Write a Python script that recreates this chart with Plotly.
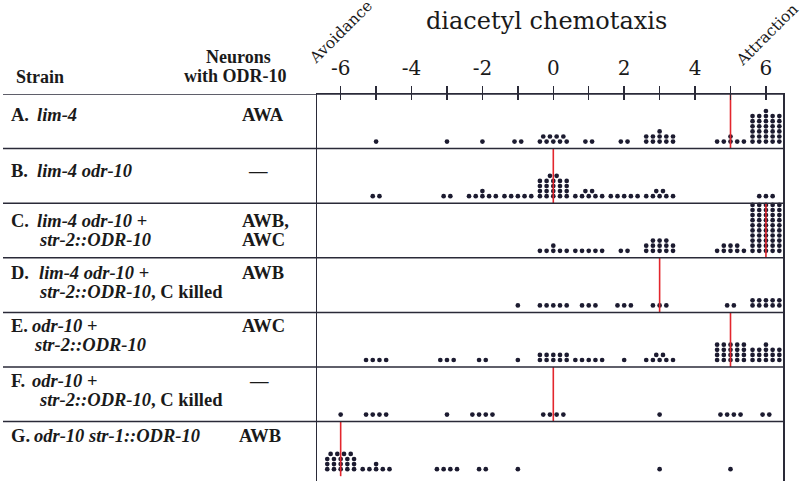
import numpy as np
import plotly.graph_objects as go

W, H = 800, 481

# ---------------- data ----------------
bins = [-6, -5, -4, -3, -2, -1, 0, 1, 2, 3, 4, 5, 6]
counts_A = [0, 1, 0, 1, 1, 2, 9, 2, 2, 11, 0, 6, 31]
counts_B = [0, 2, 0, 2, 6, 5, 22, 7, 5, 7, 0, 0, 3]
counts_C = [0, 0, 0, 0, 0, 0, 6, 5, 2, 13, 0, 8, 50]
counts_D = [0, 0, 0, 0, 0, 1, 5, 3, 3, 3, 0, 2, 10]
counts_E = [0, 4, 0, 3, 2, 1, 10, 5, 1, 7, 0, 20, 16]
counts_F = [1, 4, 0, 1, 4, 0, 4, 0, 0, 1, 0, 4, 2]
counts_G = [19, 6, 0, 4, 2, 1, 0, 0, 0, 1, 0, 1, 0]
all_counts = [counts_A, counts_B, counts_C, counts_D, counts_E, counts_F, counts_G]

strain_prefix = ["A.", "B.", "C.", "D.", "E.", "F.", "G."]
strain_line1 = ["<i>lim-4</i>", "<i>lim-4 odr-10</i>", "<i>lim-4 odr-10</i> +",
                "<i>lim-4 odr-10</i> +", "<i>odr-10</i> +", "<i>odr-10</i> +",
                "<i>odr-10 str-1::ODR-10</i>"]
strain_line2 = ["", "", "<i>str-2::ODR-10</i>", "<i>str-2::ODR-10</i>, C killed",
                "<i>str-2::ODR-10</i>", "<i>str-2::ODR-10</i>, C killed", ""]
neurons = [["AWA"], ["\u2014"], ["AWB,", "AWC"], ["AWB"], ["AWC"], ["\u2014"], ["AWB"]]

tick_vals = [-6, -5, -4, -3, -2, -1, 0, 1, 2, 3, 4, 5, 6]
tick_text = ["-6", "", "-4", "", "-2", "", "0", "", "2", "", "4", "", "6"]

title_text = "diacetyl chemotaxis"
left_label = "Avoidance"
right_label = "Attraction"

# ---------------- layout geometry (pixels) ----------------
PLOT_L, PLOT_R, PLOT_T, PLOT_B = 317, 783, 94, 481
ROW_H = 54.6
PX_PER_UNIT = 35.44
ZERO_PX = 553.3
x_lo = (PLOT_L - ZERO_PX) / PX_PER_UNIT
x_hi = (PLOT_R - ZERO_PX) / PX_PER_UNIT
n_rows = len(all_counts)
y_hi = n_rows
y_lo = n_rows - (PLOT_B - PLOT_T) / ROW_H

DX = 6.7 / PX_PER_UNIT
DY = 5.1 / ROW_H
BASE = 7.0 / ROW_H
PER_ROW = 5

INK = "#1c1b30"
LINE = "#2a2a38"
RED = "#e3262d"
SERIF = "DejaVu Serif"
TSERIF = "Liberation Serif"


def px(x, y):
    return x / W, 1 - y / H


# ---------------- dots ----------------
dot_x, dot_y = [], []
med_x, med_y = [], []
for r, counts in enumerate(all_counts):
    y0 = (n_rows - 1 - r)
    for b, n in zip(bins, counts):
        full, rem = divmod(n, PER_ROW)
        level = 0
        for _ in range(full):
            for k in range(PER_ROW):
                dot_x.append(b + (k - (PER_ROW - 1) / 2) * DX)
                dot_y.append(y0 + BASE + level * DY)
            level += 1
        for k in range(rem):
            dot_x.append(b + (k - (rem - 1) / 2) * DX)
            dot_y.append(y0 + BASE + level * DY)
    values = np.repeat(bins, counts)
    med = float(np.median(values))
    med_x += [med, med, None]
    med_y += [y0, y0 + 1, None]

fig = go.Figure()
fig.add_trace(go.Scatter(x=dot_x, y=dot_y, mode="markers",
                         marker=dict(size=4.7, color=INK, line=dict(width=0)),
                         hoverinfo="skip", showlegend=False))
fig.add_trace(go.Scatter(x=med_x, y=med_y, mode="lines",
                         line=dict(color=RED, width=1.6),
                         hoverinfo="skip", showlegend=False))
fig.add_trace(go.Scatter(x=[0], y=[0], xaxis="x2", mode="markers",
                         marker=dict(opacity=0), hoverinfo="skip", showlegend=False))

# ---------------- row separators ----------------
shapes = []
for k in range(1, n_rows + 1):
    shapes.append(dict(type="line", xref="paper", yref="y",
                       x0=3 / W, x1=PLOT_R / W, y0=k, y1=k,
                       line=dict(color=LINE, width=1.5)))

# ---------------- annotations ----------------
ann = []


def text(x, y, s, size, font=TSERIF, xanchor="left", angle=0, bold=True):
    xx, yy = px(x, y)
    ann.append(dict(x=xx, y=yy, xref="paper", yref="paper", showarrow=False,
                    text=("<b>%s</b>" % s) if bold else s, xanchor=xanchor,
                    yanchor="middle", textangle=angle,
                    font=dict(family=font, size=size, color="#1a1a1a")))


text(546, 21, title_text, 24, font=SERIF, xanchor="center", bold=False)
text(341, 32, left_label, 15.5, font=SERIF, xanchor="center", angle=-45, bold=False)
text(767, 35, right_label, 15.5, font=SERIF, xanchor="center", angle=-45, bold=False)

text(14, 77, "Strain", 18)
text(238, 57, "Neurons", 18, xanchor="center")
text(235, 76, "with ODR-10", 18, xanchor="center")

line1_y = [115, 171, 221, 273, 326, 381, 436]
line2_dy = 18.5
name_x1 = [35, 35, 35, 37, 30, 30, 32]
name_x2 = [0, 0, 37, 37, 32, 37, 0]
neur_x = [240, 258, 240, 240, 240, 259, 237]
for r in range(n_rows):
    y1 = line1_y[r]
    text(9, y1, strain_prefix[r], 18.5)
    text(name_x1[r], y1, strain_line1[r], 18.5)
    if strain_line2[r]:
        text(name_x2[r], y1 + line2_dy, strain_line2[r], 18.5)
    for j, nm in enumerate(neurons[r]):
        anchor = "center" if nm == "\u2014" else "left"
        text(neur_x[r], y1 + j * line2_dy, nm, 18.5, xanchor=anchor)

fig.update_layout(
    width=W, height=H,
    margin=dict(l=0, r=0, t=0, b=0),
    paper_bgcolor="white", plot_bgcolor="white",
    showlegend=False,
    shapes=shapes, annotations=ann,
    xaxis=dict(domain=[PLOT_L / W, PLOT_R / W], range=[x_lo, x_hi], side="top",
               anchor="y", tickvals=tick_vals, ticktext=tick_text,
               ticks="outside", ticklen=7, tickwidth=1.4, tickcolor=LINE,
               showline=True, linecolor=LINE, linewidth=1.5,
               tickfont=dict(family=SERIF, size=20, color="#1a1a1a"),
               ticklabelstandoff=3,
               showgrid=False, zeroline=False, automargin=False,
               fixedrange=True),
    xaxis2=dict(overlaying="x", side="top", anchor="y", range=[x_lo, x_hi],
                tickvals=tick_vals, ticks="inside", ticklen=6, tickwidth=1.4,
                tickcolor=LINE, showticklabels=False, showline=False,
                showgrid=False, zeroline=False, automargin=False),
    yaxis=dict(domain=[0, 1 - PLOT_T / H], range=[y_lo, y_hi],
               showline=True, mirror=True, linecolor=LINE, linewidth=1.5,
               ticks="", showticklabels=False, showgrid=False, zeroline=False,
               automargin=False),
)

fig.write_html("out.html",
               config={"displayModeBar": False, "staticPlot": True},
               post_script="document.body.style.margin='0';document.body.style.overflow='hidden';")
